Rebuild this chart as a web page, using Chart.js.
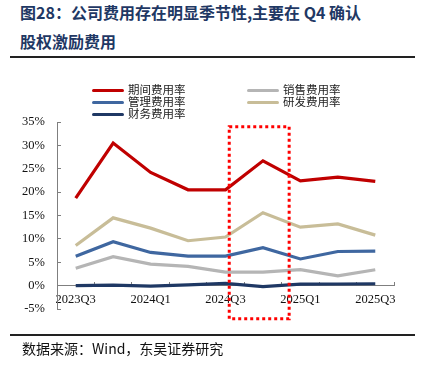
<!DOCTYPE html>
<html>
<head>
<meta charset="utf-8">
<script src="https://cdn.jsdelivr.net/npm/chart.js@4.4.1/dist/chart.umd.min.js"></script>
<style>
  body { margin: 0; background: #fff; }
  #wrap { position: relative; width: 425px; height: 370px; overflow: hidden; }
  #chartBox { position: absolute; left: 0; top: 0; width: 425px; height: 370px; }
  .title { position: absolute; left: 20px; font-family: "Noto Sans CJK SC", sans-serif; font-weight: bold; font-size: 16px; color: #1f3864; white-space: nowrap; }
  .rule { position: absolute; left: 10px; width: 405px; height: 2px; background: #222; }
  .source { position: absolute; left: 22px; top: 338px; font-family: "Noto Sans CJK SC", sans-serif; font-size: 14px; color: #111; white-space: nowrap; }
  #legend { position: absolute; left: 92px; top: 83px; font-family: "Noto Sans CJK SC", sans-serif; font-size: 11.5px; color: #222; }
  .item { position: absolute; white-space: nowrap; height: 12px; line-height: 12px; }
  .item span.swatch { display: inline-block; width: 32px; height: 3px; border-radius: 2px; vertical-align: middle; margin-right: 4px; }
</style>
</head>
<body>
<div id="wrap">
  <div class="title" style="top: 0px;">图28：公司费用存在明显季节性,主要在 Q4 确认</div>
  <div class="title" style="top: 29px;">股权激励费用</div>
  <div class="rule" style="top: 56px;"></div>
  <div id="chartBox"><canvas id="lineChart"></canvas></div>
  <div id="legend"></div>
  <div class="rule" style="top: 334px;"></div>
  <div class="source">数据来源：Wind，东吴证券研究</div>
</div>
<script>
const quarters = ["2023Q3", "2023Q4", "2024Q1", "2024Q2", "2024Q3", "2024Q4", "2025Q1", "2025Q2", "2025Q3"];
const periodRate = [18.7, 30.5, 24.2, 20.5, 20.5, 26.7, 22.4, 23.2, 22.3];
const salesRate = [3.7, 6.2, 4.6, 4.1, 2.9, 2.9, 3.4, 2.1, 3.4];
const adminRate = [6.3, 9.4, 7.1, 6.3, 6.3, 8.1, 5.7, 7.3, 7.4];
const rdRate = [8.6, 14.5, 12.3, 9.6, 10.4, 15.6, 12.5, 13.2, 10.8];
const financeRate = [0.0, 0.1, -0.1, 0.15, 0.5, -0.2, 0.3, 0.35, 0.4];
const yTicks = [-5, 0, 5, 10, 15, 20, 25, 30, 35];

document.addEventListener("DOMContentLoaded", function () {
  const series = [
    { label: "期间费用率", data: periodRate, color: "#c00000" },
    { label: "销售费用率", data: salesRate, color: "#b5b5b5" },
    { label: "管理费用率", data: adminRate, color: "#3f67a0" },
    { label: "研发费用率", data: rdRate, color: "#c8bd98" },
    { label: "财务费用率", data: financeRate, color: "#1f3864" },
  ];

  // legend: two columns, filled row by row
  const legend = document.getElementById("legend");
  series.forEach(function (s, i) {
    const div = document.createElement("div");
    div.className = "item";
    div.style.left = (i % 2) * 155 + "px";
    div.style.top = Math.floor(i / 2) * 12 + "px";
    div.innerHTML = '<span class="swatch" style="background:' + s.color + '"></span>' + s.label;
    legend.appendChild(div);
  });

  // red dotted box around 2024Q4
  const highlightBox = {
    id: "highlightBox",
    afterDatasetsDraw(chart, args, opts) {
      const x = chart.scales.x;
      const y = chart.scales.y;
      const ctx = chart.ctx;
      const x1 = x.getPixelForValue(opts.xFrom);
      const x2 = x.getPixelForValue(opts.xTo);
      const y1 = y.getPixelForValue(opts.yFrom);
      const y2 = y.getPixelForValue(opts.yTo);
      ctx.save();
      ctx.strokeStyle = "#ff0000";
      ctx.lineWidth = 3;
      ctx.setLineDash([3, 3]);
      ctx.strokeRect(x1, y1, x2 - x1, y2 - y1);
      ctx.restore();
    },
  };

  const ctx = document.getElementById("lineChart").getContext("2d");
  new Chart(ctx, {
    type: "line",
    data: {
      labels: quarters,
      datasets: series.map(function (s, i) {
        return {
          label: s.label,
          data: s.data,
          borderColor: s.color,
          backgroundColor: s.color,
          borderWidth: 3.2,
          pointRadius: 0,
          tension: 0,
          order: i === 4 ? 0 : 5 - i,
        };
      }),
    },
    options: {
      responsive: true,
      maintainAspectRatio: false,
      animation: false,
      layout: {
        padding: { top: 122, right: 31, bottom: 61, left: 0 },
      },
      plugins: {
        legend: { display: false },
        tooltip: { enabled: false },
        highlightBox: { xFrom: 4.1, xTo: 5.7, yFrom: 34, yTo: -7.1 },
      },
      scales: {
        x: {
          position: { y: 0 },
          offset: true,
          grid: { display: true, drawOnChartArea: false, offset: true, tickLength: -4, color: "#7f7f7f" },
          border: { display: true, color: "#7f7f7f", width: 1 },
          ticks: {
            autoSkip: false,
            maxRotation: 0,
            padding: 11,
            color: "#111",
            font: { family: "Liberation Serif", size: 12.5 },
            callback: function (value, index) {
              return index % 2 === 0 ? quarters[index] : "";
            },
          },
        },
        y: {
          min: -5,
          max: 35,
          afterFit: function (scale) {
            scale.width = 57;
          },
          afterBuildTicks: function (scale) {
            scale.ticks = yTicks.map(function (v) { return { value: v }; });
          },
          grid: { display: true, drawOnChartArea: false, tickLength: -4, color: "#7f7f7f" },
          border: { display: true, color: "#7f7f7f", width: 1 },
          ticks: {
            padding: 16,
            color: "#111",
            font: { family: "Liberation Serif", size: 12.5 },
            callback: function (value) {
              return value + "%";
            },
          },
        },
      },
    },
    plugins: [highlightBox],
  });
});
</script>
</body>
</html>
